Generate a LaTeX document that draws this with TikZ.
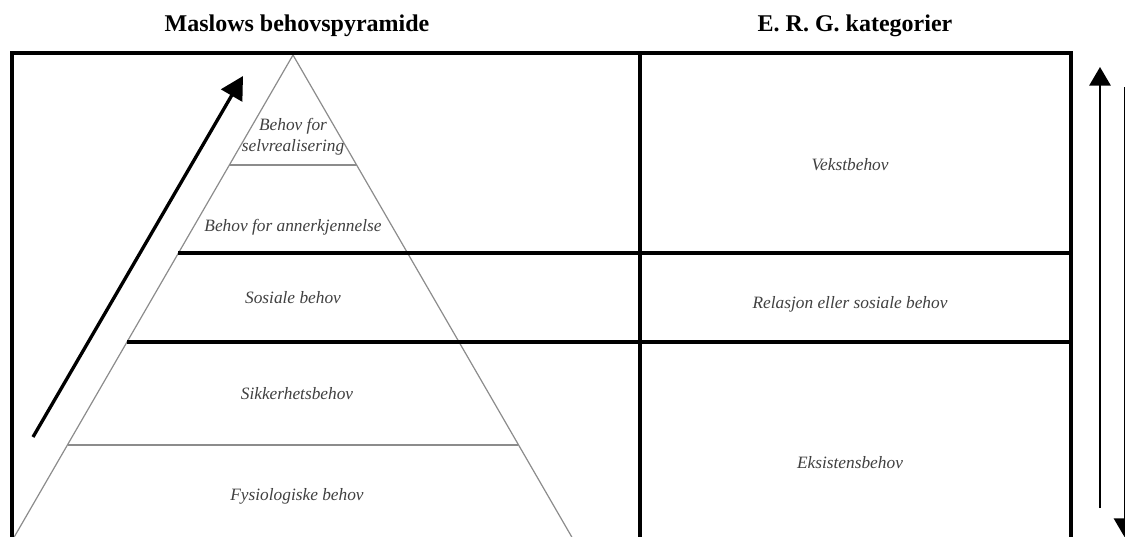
\documentclass[tikz,border=0pt]{standalone}
\usepackage{fontspec}
\setmainfont{Liberation Serif}
\usetikzlibrary{arrows.meta}
\begin{document}
\begin{tikzpicture}[x=0.75pt,y=-0.75pt,
  frame/.style={line width=2.6pt, black},
  pyr/.style={line width=0.9pt, black!45},
  heading/.style={font=\fontsize{18}{20}\selectfont\bfseries, inner sep=0pt},
  lbl/.style={font=\fontsize{13}{15.5}\selectfont\itshape, text=black!75, inner sep=0pt, align=center},
  bigarrow/.style={line width=2.5pt, -{Triangle[length=17pt,width=18pt]}},
  sidearrow/.style={line width=1.5pt, -{Triangle[length=14pt,width=16pt]}}]
\clip (0,0) rectangle (1125,536);
\fill[white] (0,0) rectangle (1125,536);

% headings
\node[heading] (hmaslow) at (297,26) {Maslows behovspyramide};
\node[heading] (herg) at (855,26) {E. R. G. kategorier};

% pyramid
\coordinate (apex) at (293,55);
\coordinate (bl) at (-2,565);
\coordinate (br) at (588,565);
\draw[pyr] (bl) -- (apex) -- (br);
\draw[pyr] (229,165) -- (357,165);
\draw[pyr] (68,445) -- (518,445);

% frame and grid
\draw[frame] (12,570) -- (12,53) -- (1071,53) -- (1071,570);
\draw[frame] (640,53) -- (640,570);
\draw[frame] (178,253) -- (1071,253);
\draw[frame] (127,342) -- (1071,342);

% pyramid labels
\node[lbl] (selv) at (293,137) {Behov for\\selvrealisering};
\node[lbl] (anner) at (293,227) {Behov for annerkjennelse};
\node[lbl] (sos) at (293,298) {Sosiale behov};
\node[lbl] (sikk) at (297,394) {Sikkerhetsbehov};
\node[lbl] (fys) at (297,496) {Fysiologiske behov};

% ERG labels
\node[lbl] (vekst) at (850,165) {Vekstbehov};
\node[lbl] (rel) at (850,304) {Relasjon eller sosiale behov};
\node[lbl] (eks) at (850,463) {Eksistensbehov};

% arrows
\coordinate (a1) at (33,437);
\coordinate (a2) at (243,76);
\draw[bigarrow] (a1) -- (a2);
\coordinate (r1) at (1100,508);
\coordinate (r2) at (1100,67);
\draw[sidearrow] (r1) -- (r2);
\coordinate (r3) at (1124.5,87);
\coordinate (r4) at (1124.5,537);
\draw[sidearrow] (r3) -- (r4);
\end{tikzpicture}
\end{document}
